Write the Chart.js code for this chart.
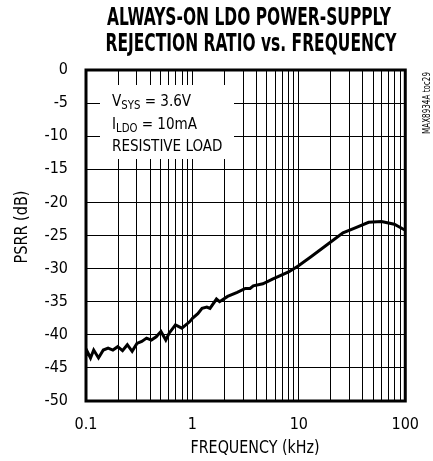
<!DOCTYPE html>
<html>
<head>
<meta charset="utf-8">
<script src="https://cdn.jsdelivr.net/npm/chart.js@4.4.1/dist/chart.umd.min.js"></script>
<style>
  html, body { margin: 0; padding: 0; background: #fff; }
  #wrap { width: 433px; height: 461px; }
</style>
</head>
<body>
<div id="wrap"><canvas id="psrr"></canvas></div>
<script>
const FONT = "'Liberation Sans Narrow', 'Arial Narrow', 'DejaVu Sans Condensed', sans-serif";

// PSRR curve
const freqKHz = [0.1, 0.1027, 0.1103, 0.1181, 0.1311, 0.1454, 0.1613, 0.179, 0.1986, 0.2204,
  0.2445, 0.2714, 0.3011, 0.3341, 0.3707, 0.4113, 0.4564, 0.5064, 0.562, 0.6021,
  0.6921, 0.7958, 0.9453, 1.0, 1.124, 1.231, 1.366, 1.463, 1.682, 1.801,
  2.141, 2.636, 3.14, 3.483, 3.731, 4.594, 5.655, 8.007, 9.856, 13.0,
  18.4, 25.98, 34.34, 45.27, 59.7, 78.89, 97.1, 100];
const psrrDb = [-43.2, -42.5, -43.5, -42.3, -43.5, -42.3, -42.0, -42.3, -41.8, -42.4,
  -41.5, -42.5, -41.3, -41.0, -40.5, -40.8, -40.3, -39.5, -40.8, -39.8,
  -38.5, -39.0, -38.0, -37.5, -36.8, -36.0, -35.8, -36.0, -34.6, -35.0,
  -34.2, -33.6, -33.0, -33.0, -32.6, -32.3, -31.6, -30.5, -29.6, -28.2,
  -26.4, -24.6, -23.8, -23.0, -22.9, -23.3, -24.1, -24.2];

// log grid: 1..9 in every decade
const xGridValues = [0.1, 0.2, 0.3, 0.4, 0.5, 0.6, 0.7, 0.8, 0.9,
  1, 2, 3, 4, 5, 6, 7, 8, 9, 10, 20, 30, 40, 50, 60, 70, 80, 90, 100];
const xTickLabels = { 0.1: '0.1', 1: '1', 10: '10', 100: '100' };

const titleLines = ['ALWAYS-ON LDO POWER-SUPPLY', 'REJECTION RATIO vs. FREQUENCY'];

const decorPlugin = {
  id: 'psrrDecor',
  beforeDatasetsDraw(chart) {
    const { ctx, chartArea } = chart;
    const { left, top, right, bottom } = chartArea;
    ctx.save();

    // white box behind the conditions text
    ctx.fillStyle = '#fff';
    ctx.fillRect(100, 85, 134, 74);

    // thick frame
    ctx.strokeStyle = '#000';
    ctx.lineWidth = 3;
    ctx.strokeRect(left, top, right - left, bottom - top);

    // conditions text, squeezed a little to look condensed
    ctx.translate(112, 0);
    ctx.scale(0.94, 1);
    ctx.fillStyle = '#000';
    ctx.textBaseline = 'alphabetic';
    ctx.textAlign = 'left';
    const big = `16px ${FONT}`;
    const sub = `12px ${FONT}`;
    const drawSub = (main, small, rest, x, y) => {
      ctx.font = big;
      ctx.fillText(main, x, y);
      let w = ctx.measureText(main).width;
      ctx.font = sub;
      ctx.fillText(small, x + w, y + 3);
      w += ctx.measureText(small).width;
      ctx.font = big;
      ctx.fillText(rest, x + w, y);
    };
    drawSub('V', 'SYS', ' = 3.6V', 0, 106);
    drawSub('I', 'LDO', ' = 10mA', 0, 129);
    ctx.font = big;
    ctx.fillText('RESISTIVE LOAD', 0, 151);
    ctx.restore();
  },
  afterDraw(chart) {
    const { ctx } = chart;
    ctx.save();
    ctx.fillStyle = '#000';
    ctx.textAlign = 'center';
    ctx.textBaseline = 'middle';

    ctx.font = `bold 24px ${FONT}`;
    ctx.fillText(titleLines[0], 249, 19, 284);
    ctx.fillText(titleLines[1], 251, 45, 291);

    ctx.font = `17px ${FONT}`;
    ctx.fillText('FREQUENCY (kHz)', 255, 449, 129);

    ctx.save();
    ctx.translate(23, 227);
    ctx.rotate(-Math.PI / 2);
    ctx.fillText('PSRR (dB)', 0, 0, 73);
    ctx.restore();

    ctx.save();
    ctx.translate(427, 103);
    ctx.rotate(-Math.PI / 2);
    ctx.font = `10px ${FONT}`;
    ctx.fillText('MAX8934A toc29', 0, 0, 62);
    ctx.restore();

    ctx.restore();
  },
};

new Chart(document.getElementById('psrr'), {
  type: 'line',
  data: {
    datasets: [{
      data: freqKHz.map((f, i) => ({ x: f, y: psrrDb[i] })),
      borderColor: '#000',
      borderWidth: 3,
      pointRadius: 0,
      tension: 0,
      fill: false,
    }],
  },
  options: {
    responsive: true,
    maintainAspectRatio: false,
    animation: false,
    layout: { padding: { left: 0, right: 15, top: 70, bottom: 0 } },
    plugins: {
      legend: { display: false },
      tooltip: { enabled: false },
    },
    scales: {
      x: {
        type: 'logarithmic',
        min: 0.1,
        max: 100,
        afterBuildTicks(scale) {
          scale.ticks = xGridValues.map((v) => ({ value: v }));
        },
        afterFit(scale) {
          scale.height = 60;
        },
        grid: { color: '#000', lineWidth: 1, drawTicks: false },
        border: { display: false },
        ticks: {
          autoSkip: false,
          maxRotation: 0,
          padding: 14,
          color: '#000',
          font: { family: FONT, size: 16 },
          callback: (v) => xTickLabels[v] || '',
        },
      },
      y: {
        min: -50,
        max: 0,
        afterFit(scale) {
          scale.width = 86;
        },
        grid: { color: '#000', lineWidth: 1, drawTicks: false },
        border: { display: false },
        ticks: {
          stepSize: 5,
          padding: 18,
          color: '#000',
          font: { family: FONT, size: 16 },
          callback: (v) => String(v),
        },
      },
    },
  },
  plugins: [decorPlugin],
});
</script>
</body>
</html>
